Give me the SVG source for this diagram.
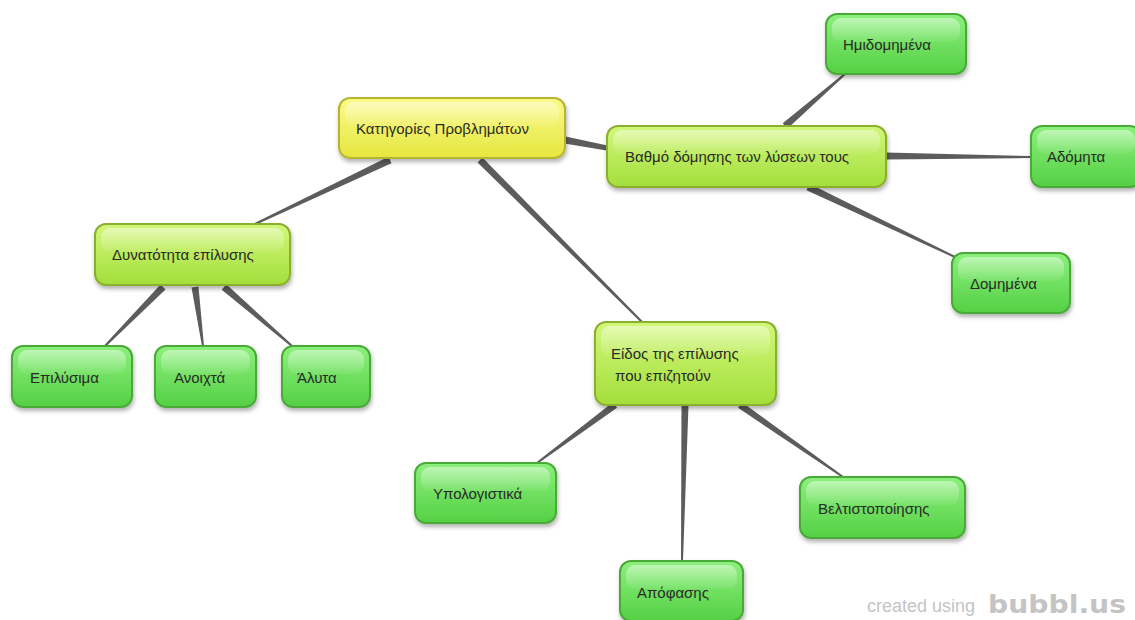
<svg xmlns="http://www.w3.org/2000/svg" width="1135" height="620" viewBox="0 0 1135 620">
<defs>
<linearGradient id="gGreen" x1="0" y1="0" x2="0" y2="1">
<stop offset="0" stop-color="#8cf07c"/><stop offset="1" stop-color="#55d045"/>
</linearGradient>
<linearGradient id="gLime" x1="0" y1="0" x2="0" y2="1">
<stop offset="0" stop-color="#d2f77a"/><stop offset="1" stop-color="#a3df3c"/>
</linearGradient>
<linearGradient id="gYellow" x1="0" y1="0" x2="0" y2="1">
<stop offset="0" stop-color="#fafa8a"/><stop offset="1" stop-color="#e6e640"/>
</linearGradient>
<linearGradient id="gGloss" x1="0" y1="0" x2="0" y2="1">
<stop offset="0" stop-color="#ffffff" stop-opacity="0.45"/><stop offset="1" stop-color="#ffffff" stop-opacity="0.05"/>
</linearGradient>
<filter id="sh" x="-10%" y="-10%" width="120%" height="140%">
<feDropShadow dx="1" dy="3" stdDeviation="2" flood-color="#000" flood-opacity="0.3"/>
</filter>
</defs>
<style>
.n rect.b{stroke-width:2;filter:url(#sh)}
.green rect.b{fill:url(#gGreen);stroke:#4aaa38}
.lime rect.b{fill:url(#gLime);stroke:#8cb02e}
.yellow rect.b{fill:url(#gYellow);stroke:#b5b530}
rect.g{fill:url(#gGloss)}
.n text{font-family:"Liberation Sans",Arial,sans-serif;font-size:15px;fill:#2a2a2a}
.e polygon{fill:#5c5c5c}
.wm{fill:#c4c4c4}
</style>
<rect width="1135" height="620" fill="#ffffff"/>
<g id="connectors" class="e">
<polygon points="388.5,156.84 254.57,223.1 255.43,224.9 391.5,163.16"/>
<polygon points="477.53,162.47 641.29,322.71 642.71,321.29 482.47,157.53"/>
<polygon points="564.35,143.44 606.53,150.46 607.47,145.54 565.65,136.56"/>
<polygon points="787.29,128.64 845.65,74.76 844.35,73.24 782.71,123.36"/>
<polygon points="886,159.5 1031,158 1031,156 886,152.5"/>
<polygon points="806.5,190.16 954.57,257.9 955.43,256.1 809.5,183.84"/>
<polygon points="160.5,284.55 104.29,345.3 105.71,346.7 165.5,289.45"/>
<polygon points="191.53,287.47 202.01,346.13 203.99,345.87 198.47,286.53"/>
<polygon points="221.71,289.64 291.34,346.76 292.66,345.24 226.29,284.36"/>
<polygon points="612.91,402.19 536.4,462.2 537.6,463.8 617.09,407.81"/>
<polygon points="681.5,405 681,561 683,561 688.5,405"/>
<polygon points="738,407.87 842.43,477.82 843.57,476.18 742,402.13"/>
</g>
<g id="root" class="n yellow">
<rect class="b" x="339" y="98" width="226" height="60" rx="11"/>
<rect class="g" x="345" y="102" width="214" height="24" rx="9"/>
<text x="356" y="134">Κατηγορίες Προβλημάτων</text>
</g>
<g id="vathmos" class="n lime">
<rect class="b" x="607" y="126" width="279" height="61" rx="11"/>
<rect class="g" x="613" y="130" width="267" height="24" rx="9"/>
<text x="625" y="162">Βαθμό δόμησης των λύσεων τους</text>
</g>
<g id="imidomimena" class="n green">
<rect class="b" x="826" y="14" width="140" height="60" rx="11"/>
<rect class="g" x="832" y="18" width="128" height="24" rx="9"/>
<text x="843" y="50">Ημιδομημένα</text>
</g>
<g id="adomita" class="n green">
<rect class="b" x="1031" y="126" width="110" height="61" rx="11"/>
<rect class="g" x="1037" y="130" width="98" height="24" rx="9"/>
<text x="1047" y="162">Αδόμητα</text>
</g>
<g id="domimena" class="n green">
<rect class="b" x="952" y="253" width="118" height="60" rx="11"/>
<rect class="g" x="958" y="257" width="106" height="24" rx="9"/>
<text x="970" y="289">Δομημένα</text>
</g>
<g id="dynatotita" class="n lime">
<rect class="b" x="95" y="224" width="195" height="61" rx="11"/>
<rect class="g" x="101" y="228" width="183" height="24" rx="9"/>
<text x="112" y="260">Δυνατότητα επίλυσης</text>
</g>
<g id="epilysima" class="n green">
<rect class="b" x="12" y="346" width="120" height="61" rx="11"/>
<rect class="g" x="18" y="350" width="108" height="24" rx="9"/>
<text x="30" y="383">Επιλύσιμα</text>
</g>
<g id="anoixta" class="n green">
<rect class="b" x="155" y="346" width="101" height="61" rx="11"/>
<rect class="g" x="161" y="350" width="89" height="24" rx="9"/>
<text x="174" y="383">Ανοιχτά</text>
</g>
<g id="alyta" class="n green">
<rect class="b" x="282" y="346" width="88" height="61" rx="11"/>
<rect class="g" x="288" y="350" width="76" height="24" rx="9"/>
<text x="297" y="383">Άλυτα</text>
</g>
<g id="eidos" class="n lime">
<rect class="b" x="595" y="322" width="181" height="83" rx="11"/>
<rect class="g" x="601" y="326" width="169" height="30" rx="9"/>
<text x="611" y="359">Είδος της επίλυσης</text>
<text x="615" y="381">που επιζητούν</text>
</g>
<g id="ypologistika" class="n green">
<rect class="b" x="415" y="463" width="141" height="60" rx="11"/>
<rect class="g" x="421" y="467" width="129" height="24" rx="9"/>
<text x="433" y="499">Υπολογιστικά</text>
</g>
<g id="apofasis" class="n green">
<rect class="b" x="620" y="561" width="123" height="60" rx="11"/>
<rect class="g" x="626" y="565" width="111" height="24" rx="9"/>
<text x="637" y="598">Απόφασης</text>
</g>
<g id="veltistopoiisis" class="n green">
<rect class="b" x="800" y="477" width="165" height="61" rx="11"/>
<rect class="g" x="806" y="481" width="153" height="24" rx="9"/>
<text x="818" y="514">Βελτιστοποίησης</text>
</g>
<g id="watermark">
<text class="wm" x="867" y="612" font-size="18" font-family="'Liberation Sans',Arial,sans-serif">created using</text>
<text class="wm" x="988" y="613" font-size="24" font-weight="bold" font-family="'DejaVu Sans',sans-serif" textLength="138" lengthAdjust="spacingAndGlyphs">bubbl.us</text>
</g>
</svg>
